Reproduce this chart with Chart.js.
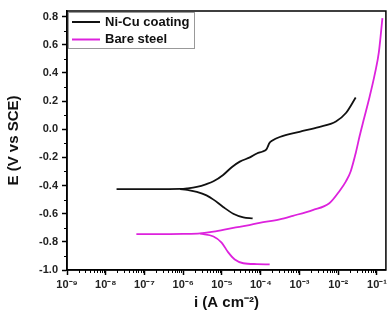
<!DOCTYPE html>
<html>
<head>
<meta charset="utf-8">
<script src="https://cdn.jsdelivr.net/npm/chart.js@4.4.1/dist/chart.umd.min.js"></script>
<style>
  html, body { margin: 0; padding: 0; background: #fff; }
  #wrap { width: 390px; height: 320px; }
</style>
</head>
<body>
<div id="wrap"><canvas id="tafel"></canvas></div>
<script>
// Tafel curves: current density i (A cm-2) against potential E (V vs SCE)
const coatAnodicI = [1.9e-8, 1e-7, 3.16e-7, 8.3e-7, 1.26e-6, 2.24e-6, 3.98e-6, 6.03e-6, 1.07e-5, 1.78e-5, 2.88e-5, 5.25e-5, 7.94e-5, 1.12e-4, 1.38e-4, 1.51e-4, 1.66e-4, 2.0e-4, 3.09e-4, 1e-3, 3.16e-3, 8.7e-3, 1.58e-2, 2.82e-2];
const coatAnodicE = [-0.425, -0.425, -0.425, -0.424, -0.42, -0.41, -0.39, -0.37, -0.325, -0.27, -0.23, -0.2, -0.172, -0.158, -0.145, -0.125, -0.1, -0.08, -0.055, -0.018, 0.015, 0.055, 0.115, 0.225];
const coatCathodicI = [8.3e-7, 1.26e-6, 2.24e-6, 3.98e-6, 6.03e-6, 1.07e-5, 1.95e-5, 3.55e-5, 6.17e-5];
const coatCathodicE = [-0.426, -0.43, -0.445, -0.47, -0.5, -0.552, -0.6, -0.626, -0.633];

const steelAnodicI = [6.17e-8, 3.16e-7, 1e-6, 2.75e-6, 6.03e-6, 1.95e-5, 4.27e-5, 9.33e-5, 3.09e-4, 6.76e-4, 2.19e-3, 5.89e-3, 1.07e-2, 1.58e-2, 2.09e-2, 2.82e-2, 3.55e-2, 4.47e-2, 6.31e-2, 8.91e-2, 1.12e-1, 1.38e-1];
const steelAnodicE = [-0.745, -0.745, -0.744, -0.74, -0.728, -0.7, -0.685, -0.665, -0.64, -0.615, -0.574, -0.526, -0.44, -0.37, -0.3, -0.17, -0.05, 0.06, 0.22, 0.4, 0.55, 0.79];
const steelCathodicI = [2.75e-6, 6.03e-6, 9.77e-6, 1.45e-5, 2.14e-5, 3.55e-5, 7.94e-5, 1.7e-4];
const steelCathodicE = [-0.742, -0.762, -0.805, -0.875, -0.925, -0.952, -0.958, -0.96];

const seriesLabels = ['Ni-Cu coating', 'Bare steel'];
const seriesColors = ['#111111', '#dd22dd'];
const xTickExponents = [-9, -8, -7, -6, -5, -4, -3, -2, -1];
const yTickValues = [-1.0, -0.8, -0.6, -0.4, -0.2, 0.0, 0.2, 0.4, 0.6, 0.8];

const SUP = { '-': '\u207B', '0': '\u2070', '1': '\u00B9', '2': '\u00B2', '3': '\u00B3', '4': '\u2074', '5': '\u2075', '6': '\u2076', '7': '\u2077', '8': '\u2078', '9': '\u2079' };
function sup(n) {
    return String(n).split('').map(c => SUP[c]).join('');
}

function pts(xs, ys) {
    return xs.map((x, k) => ({ x: x, y: ys[k] }));
}

function branch(label, xs, ys, color) {
    return {
        label: label,
        data: pts(xs, ys),
        showLine: true,
        borderColor: color,
        backgroundColor: color,
        borderWidth: 1.8,
        pointRadius: 0,
        cubicInterpolationMode: 'monotone'
    };
}

const AXIS_FONT = 'Arial, "Liberation Sans", sans-serif';

// frame round the plot, minor ticks, and the boxed legend
const decorations = {
    id: 'decorations',
    afterDraw(chart) {
        const ctx = chart.ctx;
        const a = chart.chartArea;
        const xs = chart.scales.x;
        const ys = chart.scales.y;
        ctx.save();
        ctx.strokeStyle = '#000';
        ctx.lineWidth = 1.5;
        ctx.strokeRect(a.left, a.top, a.right - a.left, a.bottom - a.top);

        // minor ticks
        ctx.lineWidth = 1;
        ctx.beginPath();
        for (let e = -9; e <= 0; e++) {
            for (let m = 2; m <= 9; m++) {
                const v = m * Math.pow(10, e);
                if (v < xs.min || v > xs.max) continue;
                const px = Math.round(xs.getPixelForValue(v)) + 0.5;
                ctx.moveTo(px, a.bottom);
                ctx.lineTo(px, a.bottom + 3);
            }
        }
        for (let k = 0; k < yTickValues.length - 1; k++) {
            const v = (yTickValues[k] + yTickValues[k + 1]) / 2;
            const py = Math.round(ys.getPixelForValue(v)) + 0.5;
            ctx.moveTo(a.left, py);
            ctx.lineTo(a.left - 3, py);
        }
        ctx.stroke();

        // legend
        const lx = a.left + 1, ly = a.top + 1;
        ctx.strokeStyle = '#999';
        ctx.lineWidth = 1;
        ctx.strokeRect(lx + 0.5, ly + 0.5, 126, 36);
        ctx.font = 'bold 13px ' + AXIS_FONT;
        ctx.textBaseline = 'middle';
        ctx.fillStyle = '#111';
        seriesLabels.forEach((lab, k) => {
            const y = ly + 10 + k * 17.5;
            ctx.strokeStyle = seriesColors[k];
            ctx.lineWidth = 2;
            ctx.beginPath();
            ctx.moveTo(lx + 4, y);
            ctx.lineTo(lx + 32, y);
            ctx.stroke();
            ctx.fillText(lab, lx + 37, y);
        });
        ctx.restore();
    }
};

new Chart(document.getElementById('tafel'), {
    type: 'scatter',
    data: {
        datasets: [
            branch(seriesLabels[0], coatAnodicI, coatAnodicE, seriesColors[0]),
            branch(seriesLabels[0], coatCathodicI, coatCathodicE, seriesColors[0]),
            branch(seriesLabels[1], steelAnodicI, steelAnodicE, seriesColors[1]),
            branch(seriesLabels[1], steelCathodicI, steelCathodicE, seriesColors[1])
        ]
    },
    options: {
        responsive: true,
        maintainAspectRatio: false,
        animation: false,
        layout: { padding: { left: 0, right: 2, top: 11, bottom: 0 } },
        plugins: {
            legend: { display: false },
            tooltip: { enabled: false }
        },
        scales: {
            x: {
                type: 'logarithmic',
                min: 1e-9,
                max: Math.pow(10, -0.77),
                afterBuildTicks: scale => {
                    scale.ticks = xTickExponents.map(e => ({ value: Math.pow(10, e), major: true }));
                },
                afterFit: scale => { scale.height = 50; },
                grid: { drawOnChartArea: false, tickLength: 5, tickWidth: 1.5, tickColor: '#000' },
                border: { color: '#000', width: 1.5 },
                ticks: {
                    autoSkip: false,
                    maxRotation: 0,
                    padding: 3,
                    color: '#222',
                    font: { family: AXIS_FONT, size: 11, weight: 'bold' },
                    callback: function (value) {
                        return '10' + sup(Math.round(Math.log10(value)));
                    }
                },
                title: {
                    display: true,
                    text: 'i (A cm\u207B\u00B2)',
                    color: '#111',
                    font: { family: AXIS_FONT, size: 15, weight: 'bold' },
                    padding: { top: 0, bottom: 8 }
                }
            },
            y: {
                min: -1.0,
                max: 0.84,
                afterBuildTicks: scale => {
                    scale.ticks = yTickValues.map(v => ({ value: v }));
                },
                afterFit: scale => { scale.width = 67; },
                grid: { drawOnChartArea: false, tickLength: 5, tickWidth: 1.5, tickColor: '#000' },
                border: { color: '#000', width: 1.5 },
                ticks: {
                    padding: 4,
                    color: '#222',
                    font: { family: AXIS_FONT, size: 11, weight: 'bold' },
                    callback: v => v.toFixed(1)
                },
                title: {
                    display: true,
                    text: 'E (V vs SCE)',
                    color: '#111',
                    font: { family: AXIS_FONT, size: 15, weight: 'bold' },
                    padding: { top: 5, bottom: 0 }
                }
            }
        }
    },
    plugins: [decorations]
});
</script>
</body>
</html>
